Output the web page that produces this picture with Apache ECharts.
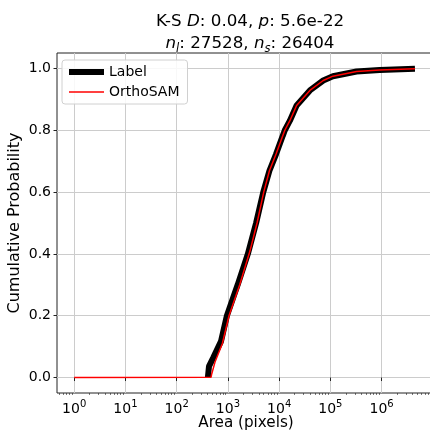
<!DOCTYPE html>
<html>
<head>
<meta charset="utf-8">
<script src="https://cdn.jsdelivr.net/npm/echarts@6/dist/echarts.min.js"></script>
<style>
  html, body { margin: 0; padding: 0; background: #fff; }
  #chart { width: 430px; height: 431px; }
</style>
</head>
<body>
<div id="chart"></div>
<script>
// area (pixels) vs cumulative probability
var labelArea = [407, 427, 513, 733, 955, 1550, 2450, 3550, 4900, 6460, 8710, 11750, 12900, 16200, 21900, 39800, 72400, 112000, 324000, 912000, 4470000];
var labelProb = [0.0, 0.036, 0.063, 0.117, 0.2, 0.3, 0.4, 0.5, 0.6, 0.669, 0.723, 0.782, 0.8, 0.831, 0.88, 0.929, 0.961, 0.975, 0.99, 0.995, 0.999];

var orthoArea = [1, 470, 480, 560, 780, 1050, 1700, 2700, 3700, 5000, 6460, 8710, 11750, 12900, 16200, 21900, 39800, 72400, 112000, 324000, 912000, 4470000];
var orthoProb = [0.0, 0.001, 0.01, 0.05, 0.11, 0.2, 0.3, 0.41, 0.5, 0.6, 0.669, 0.723, 0.782, 0.8, 0.831, 0.88, 0.929, 0.961, 0.975, 0.99, 0.995, 0.999];

var xTicks = [1, 10, 100, 1000, 10000, 100000, 1000000];
var yTicks = [0, 0.2, 0.4, 0.6, 0.8, 1.0];

var xMinorTicks = [];
for (var e = -1; e <= 6; e++) {
    for (var k = 2; k <= 9; k++) {
        var v = k * Math.pow(10, e);
        if (v > 0.46 && v < 1.1e7) xMinorTicks.push(v);
    }
}

function pairs(xs, ys) {
    return xs.map(function (x, i) { return [x, ys[i]]; });
}

var font = 'DejaVu Sans';
var chart = echarts.init(document.getElementById('chart'));

var option = {
    animation: false,
    title: {
        text: 'K-S {i|D}: 0.04, {i|p}: 5.6e-22\n{i|n}{sub|l}: 27528, {i|n}{sub|s}: 26404',
        left: 245,
        top: 6,
        textAlign: 'center',
        textStyle: {
            fontFamily: font,
            fontSize: 16.7,
            fontWeight: 'normal',
            color: '#000',
            lineHeight: 22,
            rich: {
                i: { fontFamily: font, fontSize: 16.7, fontStyle: 'italic', color: '#000', lineHeight: 22 },
                sub: { fontFamily: font, fontSize: 11.5, fontStyle: 'italic', color: '#000', lineHeight: 12, verticalAlign: 'bottom' }
            }
        }
    },
    grid: {
        left: 57,
        top: 53,
        width: 378,
        height: 340,
        outerBoundsMode: 'none',
        containLabel: false,
        show: true,
        borderColor: '#222',
        borderWidth: 1
    },
    legend: {
        orient: 'vertical',
        left: 62,
        top: 60,
        padding: [5, 8, 5, 4],
        itemWidth: 35,
        itemHeight: 14,
        itemGap: 6,
        backgroundColor: 'rgba(255,255,255,0.85)',
        borderColor: '#d0d0d0',
        borderWidth: 1,
        borderRadius: 3,
        textStyle: { fontFamily: font, fontSize: 14, color: '#000', padding: [0, 0, 0, 0] },
        data: [
            { name: 'Label', itemStyle: { opacity: 0 }, lineStyle: { width: 6, color: '#000', cap: 'butt' } },
            { name: 'OrthoSAM', itemStyle: { opacity: 0 }, lineStyle: { width: 1.5, color: '#ff0000' } }
        ]
    },
    xAxis: [{
        type: 'log',
        min: 0.462,
        max: 1.1e7,
        position: 'bottom',
        name: 'Area (pixels)',
        nameLocation: 'middle',
        nameGap: 23,
        nameMoveOverlap: false,
        nameTextStyle: { fontFamily: font, fontSize: 15.2, color: '#000' },
        axisLine: { show: false },
        axisTick: { show: true, length: 3.5, customValues: xTicks, lineStyle: { color: '#222' } },
        axisLabel: {
            customValues: xTicks,
            margin: 6,
            formatter: function (val) {
                return '{b|10}{sup|' + Math.round(Math.log10(val)) + '}';
            },
            rich: {
                b: { fontFamily: font, fontSize: 14, color: '#000', lineHeight: 20 },
                sup: { fontFamily: font, fontSize: 10, color: '#000', lineHeight: 10, verticalAlign: 'top' }
            }
        },
        splitLine: { show: true, lineStyle: { color: '#cccccc', width: 1 } }
    }, {
        type: 'log',
        min: 0.462,
        max: 1.1e7,
        position: 'bottom',
        axisLine: { show: false },
        axisTick: { show: true, length: 2, customValues: xMinorTicks, lineStyle: { color: '#222', width: 0.6 } },
        axisLabel: { show: false },
        splitLine: { show: false }
    }],
    yAxis: {
        type: 'value',
        min: -0.05,
        max: 1.05,
        name: 'Cumulative Probability',
        nameLocation: 'middle',
        nameGap: 34,
        nameMoveOverlap: false,
        nameTextStyle: { fontFamily: font, fontSize: 16, color: '#000' },
        axisLine: { show: false },
        axisTick: { show: true, length: 3.5, customValues: yTicks, lineStyle: { color: '#222' } },
        axisLabel: {
            customValues: yTicks,
            margin: 6,
            fontFamily: font,
            fontSize: 14,
            color: '#000',
            formatter: function (val) { return val.toFixed(1); }
        },
        splitLine: { show: true, lineStyle: { color: '#cccccc', width: 1 } }
    },
    series: [{
        name: 'Label',
        type: 'line',
        xAxisIndex: 0,
        showSymbol: false,
        symbol: 'none',
        lineStyle: { color: '#000', width: 6 },
        itemStyle: { color: '#000' },
        z: 2,
        data: pairs(labelArea, labelProb)
    }, {
        name: 'OrthoSAM',
        type: 'line',
        xAxisIndex: 0,
        showSymbol: false,
        symbol: 'none',
        lineStyle: { color: '#ff0000', width: 1.5 },
        itemStyle: { color: '#ff0000' },
        z: 3,
        data: pairs(orthoArea, orthoProb)
    }]
};

chart.setOption(option);
</script>
</body>
</html>
